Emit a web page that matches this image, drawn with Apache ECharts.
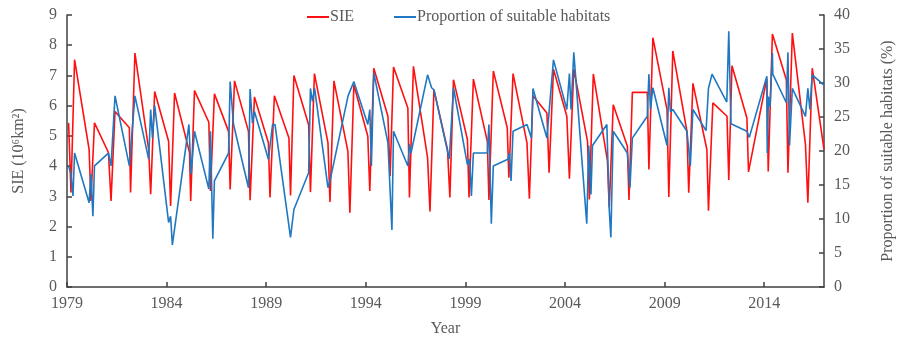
<!DOCTYPE html>
<html>
<head>
<meta charset="utf-8">
<script src="https://cdn.jsdelivr.net/npm/echarts@6/dist/echarts.min.js"></script>
<style>
  html, body { margin: 0; padding: 0; background: #fff; }
  #chart { width: 904px; height: 342px; }
</style>
</head>
<body>
<div id="chart"></div>
<script>
// x tick labels
var yearTicks = [1979, 1984, 1989, 1994, 1999, 2004, 2009, 2014];

// SIE (10^6 km2)
var sieYears = [1979.08, 1979.20, 1979.38, 1980.11, 1980.20, 1980.38, 1981.08, 1981.21, 1981.41, 1982.13,
  1982.19, 1982.41, 1983.10, 1983.20, 1983.40, 1984.10, 1984.20, 1984.40, 1985.15, 1985.21,
  1985.40, 1986.12, 1986.20, 1986.40, 1987.11, 1987.19, 1987.41, 1988.11, 1988.19, 1988.41,
  1989.11, 1989.19, 1989.41, 1990.14, 1990.22, 1990.39, 1991.13, 1991.22, 1991.42, 1992.10,
  1992.20, 1992.40, 1993.10, 1993.20, 1993.40, 1994.10, 1994.20, 1994.40, 1995.11, 1995.22,
  1995.39, 1996.11, 1996.19, 1996.39, 1997.10, 1997.22, 1997.42, 1998.10, 1998.22, 1998.40,
  1999.10, 1999.18, 1999.40, 2000.10, 2000.18, 2000.40, 2001.10, 2001.18, 2001.39, 2002.09,
  2002.21, 2002.39, 2003.09, 2003.20, 2003.42, 2004.09, 2004.22, 2004.44, 2005.13, 2005.22,
  2005.42, 2006.13, 2006.22, 2006.42, 2007.13, 2007.21, 2007.38, 2008.13, 2008.21, 2008.41,
  2009.12, 2009.21, 2009.41, 2010.12, 2010.21, 2010.42, 2011.12, 2011.20, 2011.42, 2012.13,
  2012.22, 2012.38, 2013.13, 2013.21, 2014.13, 2014.20, 2014.41, 2015.11, 2015.19, 2015.41,
  2016.07, 2016.19, 2016.41, 2017.0];
var sieValues = [5.43, 3.13, 7.52, 4.55, 2.85, 5.43, 4.45, 2.85, 5.81, 5.27,
  3.13, 7.74, 4.55, 3.07, 6.47, 4.82, 2.68, 6.42, 4.45, 2.85,
  6.50, 5.45, 3.18, 6.39, 5.15, 3.23, 6.82, 5.15, 2.87, 6.29,
  4.77, 2.96, 6.33, 4.93, 3.03, 7.00, 5.37, 3.14, 7.06, 4.77,
  2.81, 6.82, 4.49, 2.46, 6.69, 4.99, 3.18, 7.24, 5.65, 3.67,
  7.28, 5.92, 2.96, 7.30, 4.28, 2.50, 6.53, 4.55, 2.96, 6.86,
  4.88, 2.96, 6.88, 4.82, 2.88, 7.15, 5.27, 3.62, 7.06, 4.77,
  2.92, 6.33, 5.76, 3.78, 7.21, 5.65, 3.58, 7.21, 4.82, 2.90,
  7.05, 4.17, 2.63, 6.03, 4.66, 2.88, 6.44, 6.44, 3.89, 8.25,
  5.87, 2.98, 7.81, 5.15, 3.12, 6.74, 4.55, 2.52, 6.09, 5.65,
  3.54, 7.32, 5.59, 3.81, 6.90, 3.82, 8.37, 6.86, 3.78, 8.40,
  4.71, 2.79, 7.24, 4.55];

// proportion of suitable habitats (%)
var habYears = [1979.08, 1979.20, 1979.30, 1979.38, 1980.11, 1980.20, 1980.30, 1980.38, 1981.08, 1981.21,
  1981.29, 1981.41, 1982.13, 1982.41, 1983.10, 1983.20, 1983.29, 1983.40, 1984.10, 1984.20,
  1984.29, 1985.12, 1985.23, 1985.40, 1986.12, 1986.20, 1986.32, 1986.40, 1987.11, 1987.19,
  1987.36, 1988.11, 1988.19, 1988.31, 1988.41, 1989.11, 1989.32, 1989.44, 1990.22, 1990.39,
  1991.13, 1991.22, 1991.32, 1991.43, 1992.10, 1992.20, 1992.28, 1993.11, 1993.20, 1993.40,
  1994.10, 1994.20, 1994.28, 1994.40, 1995.11, 1995.31, 1995.39, 1996.11, 1996.19, 1996.27,
  1997.10, 1997.30, 1997.42, 1998.19, 1998.40, 1999.10, 1999.21, 1999.30, 1999.40, 2000.10,
  2000.18, 2000.30, 2000.40, 2001.13, 2001.21, 2001.29, 2001.39, 2002.09, 2002.31, 2002.39,
  2003.09, 2003.42, 2004.09, 2004.22, 2004.30, 2004.44, 2005.09, 2005.19, 2005.30, 2005.38,
  2006.10, 2006.22, 2006.30, 2006.42, 2007.13, 2007.26, 2007.38, 2008.13, 2008.21, 2008.29,
  2008.41, 2009.12, 2009.21, 2009.29, 2009.41, 2010.12, 2010.29, 2010.42, 2011.08, 2011.20,
  2011.28, 2011.38, 2012.12, 2012.22, 2012.33, 2013.13, 2013.25, 2014.13, 2014.15, 2014.21,
  2014.29, 2014.41, 2014.43, 2015.11, 2015.19, 2015.27, 2015.41, 2016.07, 2016.19, 2016.29,
  2016.41, 2017.0];
var habValues = [17.8, 16.6, 13.4, 19.7, 12.4, 16.6, 10.4, 17.8, 19.7, 17.8,
  17.8, 28.1, 17.8, 28.1, 18.8, 26.1, 21.9, 26.7, 9.5, 10.4,
  6.2, 23.9, 16.6, 22.9, 14.4, 22.9, 7.1, 15.6, 19.7, 30.2,
  23.9, 14.6, 29.1, 24.1, 25.8, 18.8, 23.9, 23.9, 7.3, 11.4,
  16.8, 29.2, 27.3, 29.2, 14.6, 15.6, 15.6, 28.1, 28.1, 30.2,
  23.9, 26.1, 17.8, 31.5, 21.2, 8.4, 22.9, 17.8, 21.0, 19.7,
  31.2, 29.3, 29.0, 18.8, 29.3, 18.0, 18.8, 13.4, 19.7, 19.7,
  23.9, 9.3, 17.8, 18.8, 19.7, 15.6, 22.9, 23.9, 21.9, 29.2,
  21.9, 33.4, 26.1, 31.4, 26.1, 34.5, 9.3, 20.8, 13.6, 20.8,
  23.9, 11.4, 7.3, 22.9, 19.7, 14.6, 21.9, 25.1, 31.3, 26.1,
  29.3, 20.8, 29.3, 25.8, 26.1, 22.9, 17.8, 26.1, 23.0, 29.2,
  29.2, 31.3, 27.2, 37.6, 24.0, 22.9, 22.0, 31.0, 19.7, 28.0,
  26.5, 34.4, 31.3, 27.1, 34.5, 20.8, 29.2, 25.1, 29.2, 26.1,
  31.2, 29.7];

function pairs(xs, ys) {
  return xs.map(function (x, i) { return [x, ys[i]]; });
}

var font = "'Liberation Serif', 'Times New Roman', serif";
var textGrey = "#595959";
var axisGrey = "#404040";

var chart = echarts.init(document.getElementById("chart"));
chart.setOption({
  animation: false,
  textStyle: { fontFamily: font },
  grid: { left: 67, right: 75, top: 15, bottom: 54 },
  legend: {
    left: 302,
    top: 4,
    icon: "rect",
    itemWidth: 22,
    itemHeight: 2,
    itemGap: 40,
    textStyle: { fontFamily: font, fontSize: 16, color: textGrey, padding: [0, 0, 0, -4] },
    data: ["SIE", "Proportion of suitable habitats"]
  },
  xAxis: {
    type: "value",
    min: 1979,
    max: 2017,
    name: "Year",
    nameLocation: "middle",
    nameGap: 34,
    nameTextStyle: { fontFamily: font, fontSize: 16, color: textGrey },
    splitLine: { show: false },
    axisLine: { lineStyle: { color: axisGrey, width: 1.5 } },
    axisTick: { customValues: yearTicks, inside: true, length: 5, lineStyle: { color: axisGrey, width: 1.5 } },
    axisLabel: {
      customValues: yearTicks, fontFamily: font, fontSize: 16, color: textGrey, margin: 9,
      formatter: function (v) { return String(v); }
    }
  },
  yAxis: [
    {
      type: "value",
      min: 0,
      max: 9,
      interval: 1,
      name: "SIE (10\u2076km\u00b2)",
      nameLocation: "middle",
      nameGap: 40,
      nameTextStyle: { fontFamily: font, fontSize: 16, color: textGrey },
      splitLine: { show: false },
      axisLine: { show: true, lineStyle: { color: axisGrey, width: 1.5 } },
      axisTick: { show: true, inside: true, length: 5, lineStyle: { color: axisGrey, width: 1.5 } },
      axisLabel: { fontFamily: font, fontSize: 16, color: textGrey, margin: 10 }
    },
    {
      type: "value",
      min: 0,
      max: 40,
      interval: 5,
      position: "right",
      name: "Proportion of suitable habitats (%)",
      nameLocation: "middle",
      nameGap: 56,
      nameTextStyle: { fontFamily: font, fontSize: 16, color: textGrey },
      splitLine: { show: false },
      axisLine: { show: true, lineStyle: { color: axisGrey, width: 1.5 } },
      axisTick: { show: true, inside: true, length: 5, lineStyle: { color: axisGrey, width: 1.5 } },
      axisLabel: { fontFamily: font, fontSize: 16, color: textGrey, margin: 10 }
    }
  ],
  series: [
    {
      name: "SIE",
      type: "line",
      yAxisIndex: 0,
      symbol: "none",
      color: "#ff1010",
      lineStyle: { width: 1.6, color: "#ff1010" },
      data: pairs(sieYears, sieValues)
    },
    {
      name: "Proportion of suitable habitats",
      type: "line",
      yAxisIndex: 1,
      symbol: "none",
      color: "#1f78c1",
      lineStyle: { width: 1.6, color: "#1f78c1" },
      data: pairs(habYears, habValues)
    }
  ]
});
</script>
</body>
</html>
